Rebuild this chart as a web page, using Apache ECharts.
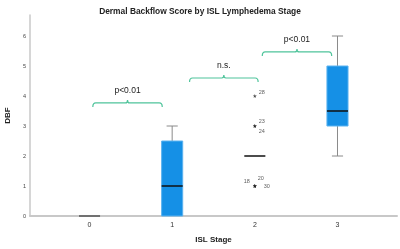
<!DOCTYPE html>
<html>
<head>
<meta charset="utf-8">
<script src="https://cdn.jsdelivr.net/npm/echarts@6/dist/echarts.min.js"></script>
<style>
    html, body { margin: 0; padding: 0; background: #fff; }
    #chart { width: 400px; height: 249px; }
</style>
</head>
<body>
<div id="chart"></div>
<script>
// stages on the x axis
var stages = [0, 1, 2, 3]
var stageLabels = ['0', '1', '2', '3']
// box stats per stage: min, Q1, median, Q3, max
var boxMin = [0, 0, 2, 2]
var boxQ1 = [0, 0, 2, 3]
var boxMedian = [0, 1, 2, 3.5]
var boxQ3 = [0, 2.5, 2, 5]
var boxMax = [0, 3, 2, 6]
// extreme values (case ids) for stage 2
var outlierStage = [2, 2, 2, 2, 2, 2]
var outlierIds = ['28', '23', '24', '18', '20', '30']
var outlierValues = [4, 3, 3, 1, 1, 1]
// significance brackets
var bracketFrom = [0.04, 1.21, 2.09]
var bracketTo = [0.88, 2.04, 2.93]
var bracketLevel = [3.77, 4.6, 5.47]
var bracketText = ['p<0.01', 'n.s.', 'p<0.01']
var yTicks = [0, 1, 2, 3, 4, 5, 6]

// where each case id sits next to its marker
var idOffset = {
    '28': [7, -4], '23': [7, -5], '24': [7, 5],
    '18': [-8, -5], '20': [6, -8], '30': [12, 0]
}

var myChart = echarts.init(document.getElementById('chart'))

var boxData = stages.map(function (s, i) {
    return [s, boxMin[i], boxQ1[i], boxMedian[i], boxQ3[i], boxMax[i]]
})
var outlierData = outlierIds.map(function (id, i) {
    return {
        value: [outlierStage[i], outlierValues[i]],
        label: { formatter: id, offset: idOffset[id] }
    }
})
var bracketData = bracketText.map(function (t, i) {
    return [bracketFrom[i], bracketTo[i], bracketLevel[i], t]
})

function renderBox(params, api) {
    var x = api.value(0)
    var pMin = api.coord([x, api.value(1)])
    var pQ1 = api.coord([x, api.value(2)])
    var pMed = api.coord([x, api.value(3)])
    var pQ3 = api.coord([x, api.value(4)])
    var pMax = api.coord([x, api.value(5)])
    var band = api.size([1, 0])[0]
    var w = band * 0.255
    var cap = band * 0.135
    var cx = pMed[0]
    var kids = []
    var whisker = { stroke: '#8a8a8a', lineWidth: 1 }
    if (pMax[1] < pQ3[1]) {
        kids.push({ type: 'line', shape: { x1: cx, y1: pMax[1], x2: cx, y2: pQ3[1] }, style: whisker })
        kids.push({ type: 'line', shape: { x1: cx - cap / 2, y1: pMax[1], x2: cx + cap / 2, y2: pMax[1] }, style: whisker })
    }
    if (pMin[1] > pQ1[1]) {
        kids.push({ type: 'line', shape: { x1: cx, y1: pQ1[1], x2: cx, y2: pMin[1] }, style: whisker })
        kids.push({ type: 'line', shape: { x1: cx - cap / 2, y1: pMin[1], x2: cx + cap / 2, y2: pMin[1] }, style: whisker })
    }
    if (pQ1[1] - pQ3[1] > 0) {
        kids.push({
            type: 'rect',
            shape: { x: cx - w / 2, y: pQ3[1], width: w, height: pQ1[1] - pQ3[1] },
            style: { fill: '#1590e6', stroke: '#5cb3f0', lineWidth: 1 }
        })
    }
    kids.push({
        type: 'line',
        shape: { x1: cx - w / 2, y1: pMed[1], x2: cx + w / 2, y2: pMed[1] },
        style: { stroke: api.value(5) === 0 ? '#555' : '#111', lineWidth: 1.5 }
    })
    return { type: 'group', children: kids }
}

function renderBracket(params, api) {
    var a = api.coord([api.value(0), api.value(2)])
    var b = api.coord([api.value(1), api.value(2)])
    var y = a[1]
    var m = (a[0] + b[0]) / 2
    var d = 'M' + a[0] + ' ' + (y + 4) +
        ' Q' + a[0] + ' ' + y + ' ' + (a[0] + 3) + ' ' + y +
        ' L' + (m - 2) + ' ' + y +
        ' Q' + m + ' ' + y + ' ' + m + ' ' + (y - 3) +
        ' Q' + m + ' ' + y + ' ' + (m + 2) + ' ' + y +
        ' L' + (b[0] - 3) + ' ' + y +
        ' Q' + b[0] + ' ' + y + ' ' + b[0] + ' ' + (y + 4)
    return {
        type: 'group',
        children: [
            { type: 'path', shape: { pathData: d }, style: { fill: null, stroke: '#4fc49b', lineWidth: 1.2 } },
            {
                type: 'text',
                style: {
                    x: m, y: y - 8, text: api.value(3),
                    fill: '#222', font: '8.5px "Liberation Sans", sans-serif',
                    align: 'center', verticalAlign: 'bottom'
                }
            }
        ]
    }
}

var option = {
    animation: false,
    title: {
        text: 'Dermal Backflow Score by ISL Lymphedema Stage',
        left: 'center',
        top: 3,
        textStyle: { fontSize: 8.4, fontWeight: 'bold', color: '#222', fontFamily: 'Liberation Sans' }
    },
    grid: { left: 30, right: 3, top: 15, bottom: 33, outerBoundsMode: 'none' },
    xAxis: {
        type: 'value',
        min: -0.72,
        max: 3.72,
        name: 'ISL Stage',
        nameLocation: 'middle',
        nameGap: 20,
        nameTextStyle: { fontSize: 8, fontWeight: 'bold', color: '#222', fontFamily: 'Liberation Sans' },
        axisLine: { show: true, onZero: false, lineStyle: { color: '#c8c8c8', width: 2 } },
        axisTick: { show: false },
        splitLine: { show: false },
        axisLabel: {
            customValues: stages,
            formatter: function (v) { return stageLabels[stages.indexOf(v)] },
            fontSize: 7, color: '#333', margin: 6
        }
    },
    yAxis: {
        type: 'value',
        min: 0,
        max: 6.7,
        name: 'DBF',
        nameLocation: 'middle',
        nameRotate: 90,
        nameGap: 13,
        nameTextStyle: { fontSize: 8, fontWeight: 'bold', color: '#222', fontFamily: 'Liberation Sans' },
        axisLine: { show: true, onZero: false, lineStyle: { color: '#c8c8c8', width: 1.5 } },
        axisTick: { show: false },
        splitLine: { show: false },
        axisLabel: { customValues: yTicks, fontSize: 5.5, color: '#444', margin: 4 }
    },
    series: [
        {
            type: 'custom',
            renderItem: renderBox,
            data: boxData,
            z: 3
        },
        {
            type: 'scatter',
            data: outlierData,
            symbol: 'path://M0,-5 L1.2,-1.6 L4.8,-1.6 L1.9,0.6 L2.9,4 L0,2 L-2.9,4 L-1.9,0.6 L-4.8,-1.6 L-1.2,-1.6 Z',
            symbolSize: 4,
            itemStyle: { color: '#222' },
            label: { show: true, fontSize: 5.5, color: '#333', position: 'inside' },
            z: 4
        },
        {
            type: 'custom',
            renderItem: renderBracket,
            data: bracketData,
            z: 5
        }
    ]
}
myChart.setOption(option)
window.addEventListener('resize', myChart.resize)
</script>
</body>
</html>
